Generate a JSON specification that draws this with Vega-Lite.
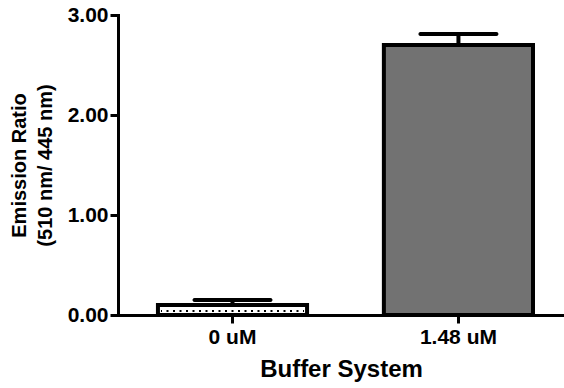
{
  "$schema": "https://vega.github.io/schema/vega-lite/v6.json",
  "autosize": {"type": "none"},
  "padding": {"left": 118, "top": 15, "right": 0, "bottom": 73},
  "width": 446,
  "height": 300,
  "background": "white",
  "config": {
    "view": {"stroke": null},
    "font": "Liberation Sans",
    "axis": {
      "domainColor": "black", "domainWidth": 3, "domainCap": "square",
      "tickColor": "black", "tickWidth": 3, "tickSize": 8,
      "labelColor": "black", "labelFont": "Liberation Sans", "labelFontWeight": "bold",
      "titleColor": "black", "titleFont": "Liberation Sans", "titleFontWeight": "bold",
      "grid": false
    }
  },
  "data": {
    "values": [
      {"cond": "0 uM", "value": 0.10, "upper": 0.15},
      {"cond": "1.48 uM", "value": 2.70, "upper": 2.81}
    ]
  },
  "encoding": {
    "x": {
      "field": "cond", "type": "nominal", "sort": null,
      "scale": {"paddingInner": 0.34, "paddingOuter": 0.157, "align": 0.563},
      "axis": {"title": "Buffer System", "labelAngle": 0, "labelFontSize": 21, "labelPadding": 3, "titleFontSize": 24, "titlePadding": 10}
    }
  },
  "layer": [
    {
      "mark": {"type": "bar", "stroke": "black", "strokeWidth": 4, "strokeJoin": "miter"},
      "encoding": {
        "y": {
          "field": "value", "type": "quantitative",
          "scale": {"domain": [0, 3], "nice": false},
          "axis": {
            "values": [0, 1, 2, 3], "format": ".2f", "labelFontSize": 21, "labelPadding": 2,
            "title": ["Emission Ratio", "(510 nm/ 445 nm)"], "titleFontSize": 20, "titleLineHeight": 26, "titlePadding": 12
          }
        },
        "fill": {
          "field": "cond", "type": "nominal", "legend": null,
          "scale": {"domain": ["0 uM", "1.48 uM"], "range": ["white", "#727272"]}
        }
      }
    },
    {
      "transform": [{"filter": "datum.cond === '0 uM'"}],
      "mark": {"type": "tick", "filled": false, "stroke": "black", "opacity": 1, "strokeWidth": 2, "thickness": 0, "size": 143, "strokeDash": [2, 4.5], "strokeDashOffset": 1},
      "encoding": {"y": {"datum": 0.04, "type": "quantitative"}}
    },
    {
      "mark": {"type": "rule", "color": "black", "opacity": 1, "strokeWidth": 4},
      "encoding": {
        "y": {"field": "value", "type": "quantitative"},
        "y2": {"field": "upper"}
      }
    },
    {
      "mark": {"type": "tick", "color": "black", "opacity": 1, "size": 80, "thickness": 4, "cornerRadius": 2},
      "encoding": {"y": {"field": "upper", "type": "quantitative"}}
    }
  ]
}
